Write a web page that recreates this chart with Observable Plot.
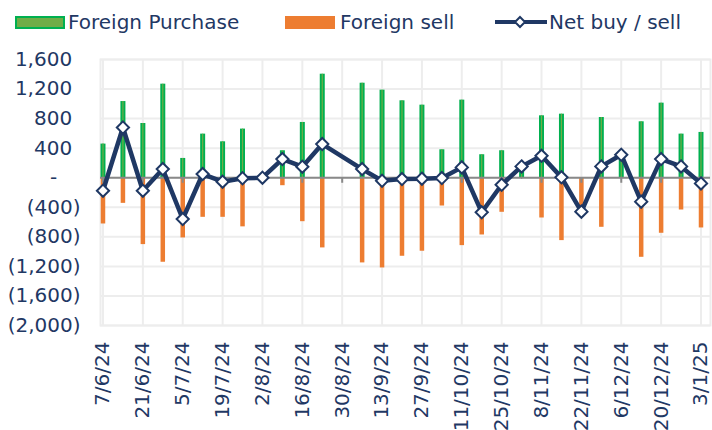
<!DOCTYPE html>
<html>
<head>
<meta charset="utf-8">
<script src="https://cdn.jsdelivr.net/npm/d3@7"></script>
<script src="https://cdn.jsdelivr.net/npm/@observablehq/plot@0.6"></script>
<style>
  html, body { margin: 0; padding: 0; background: #fff; }
  body { width: 712px; height: 430px; overflow: hidden; font-family: "DejaVu Sans", Verdana, sans-serif; color: #1F3864; }
  #legend { position: relative; height: 44px; width: 712px; font-size: 20px; }
  #legend .sw { position: absolute; top: 16px; height: 9px; width: 46px; }
  #legend .lab { position: absolute; top: 10px; line-height: 24px; white-space: nowrap; }
  #legend svg { position: absolute; top: 12px; }
</style>
</head>
<body>
<div id="legend">
  <div class="sw" style="left:15px;background:#70AD47;border:2px solid #00B050;"></div>
  <div class="lab" style="left:68px;">Foreign Purchase</div>
  <div class="sw" style="left:285px;background:#ED7D31;border:2px solid #ED7D31;"></div>
  <div class="lab" style="left:340px;">Foreign sell</div>
  <svg width="56" height="20" style="left:493px;">
    <line x1="2" y1="10" x2="54" y2="10" stroke="#1F3864" stroke-width="4"></line>
    <path d="M27,5 L32,10 L27,15 L22,10 Z" fill="#fff" stroke="#1F3864" stroke-width="2"></path>
  </svg>
  <div class="lab" style="left:549px;">Net buy / sell</div>
</div>
<div id="chart"></div>
<script>
const dates = ["7/6/24","14/6/24","21/6/24","28/6/24","5/7/24","12/7/24","19/7/24","26/7/24","2/8/24","9/8/24","16/8/24","23/8/24","30/8/24","6/9/24","13/9/24","20/9/24","27/9/24","4/10/24","11/10/24","18/10/24","25/10/24","1/11/24","8/11/24","15/11/24","22/11/24","29/11/24","6/12/24","13/12/24","20/12/24","27/12/24","3/1/25"];
const purchase = [455,1031,734,1266,261,590,486,658,0,365,748,1401,null,1279,1185,1041,982,378,1050,311,365,160,838,860,0,815,310,757,1009,590,613];
const sell = [-626,-347,-905,-1144,-815,-536,-536,-665,0,-108,-595,-950,null,-1153,-1221,-1063,-995,-383,-919,-775,-468,-5,-545,-851,-460,-671,0,-1077,-752,-437,-680];
const net = [-176,680,-176,117,-559,50,-54,-7,0,252,149,455,null,117,-41,-18,-13,-5,140,-468,-95,153,297,5,-459,153,311,-324,252,153,-77];
const tickLabels = ["7/6/24","21/6/24","5/7/24","19/7/24","2/8/24","16/8/24","30/8/24","13/9/24","27/9/24","11/10/24","25/10/24","8/11/24","22/11/24","6/12/24","20/12/24","3/1/25"];
const yTicks = [1600,1200,800,400,0,-400,-800,-1200,-1600,-2000];

const parse = s => { const [d,m,y] = s.split("/").map(Number); return new Date(Date.UTC(2000 + y, m - 1, d)); };
const data = dates.map((d, i) => ({date: parse(d), purchase: purchase[i], sell: sell[i], net: net[i]}));
const ticks = tickLabels.map(parse);
const labelOf = new Map(tickLabels.map(s => [+parse(s), s]));
const WEEK = 7 * 24 * 3600 * 1000;
const x0 = new Date(+data[0].date - 0.125 * WEEK);
const x1 = new Date(+data[data.length - 1].date + 0.477 * WEEK);

const fmtY = v => {
  if (v === 0) return "-\u2003\u2006";
  const s = d3.format(",")(Math.abs(v));
  return v < 0 ? `(${s})` : s + "\u2005\u2006";
};

const navy = "#1F3864";
const chart = Plot.plot({
  width: 712,
  height: 386,
  marginLeft: 100,
  marginRight: 2,
  marginTop: 15,
  marginBottom: 105,
  style: {fontFamily: '"DejaVu Sans", Verdana, sans-serif', fontSize: "20px", color: navy, background: "#fff"},
  x: {type: "utc", domain: [x0, x1]},
  y: {domain: [-2000, 1600]},
  marks: [
    Plot.frame({stroke: "#EDEDED", strokeWidth: 2}),
    Plot.gridY(yTicks, {stroke: "#EDEDED", strokeOpacity: 1, strokeWidth: 2}),
    Plot.gridX(ticks, {stroke: "#EDEDED", strokeOpacity: 1, strokeWidth: 2}),
    Plot.axisY(yTicks, {tickSize: 0, tickPadding: 20, tickFormat: fmtY, fill: navy, fontSize: 20}),
    Plot.axisX(ticks, {tickSize: 0, tickPadding: 16, tickRotate: -90, tickFormat: d => labelOf.get(+d), fill: navy, fontSize: 20}),
    Plot.ruleX(data.filter(d => d.purchase), {x: "date", y1: 0, y2: "purchase", stroke: "#00B050", strokeWidth: 5}),
    Plot.ruleX(data.filter(d => d.purchase), {x: "date", y1: 0, y2: "purchase", stroke: "#70AD47", strokeWidth: 1.2, insetTop: 1.5}),
    Plot.ruleX(data.filter(d => d.sell), {x: "date", y1: 0, y2: "sell", stroke: "#ED7D31", strokeWidth: 4.5}),
    Plot.ruleY([0], {stroke: "#898989", strokeWidth: 2}),
    Plot.ruleX(ticks, {x: d => d, y1: 0, y2: -75, stroke: "#898989", strokeWidth: 2}),
    Plot.line(data.filter(d => d.net != null), {x: "date", y: "net", stroke: navy, strokeWidth: 4.5, strokeLinejoin: "miter"}),
    Plot.dot(data.filter(d => d.net != null), {x: "date", y: "net", symbol: "diamond2", r: 5.5, fill: "#fff", stroke: navy, strokeWidth: 2})
  ]
});
document.getElementById("chart").appendChild(chart);
</script>
</body>
</html>
